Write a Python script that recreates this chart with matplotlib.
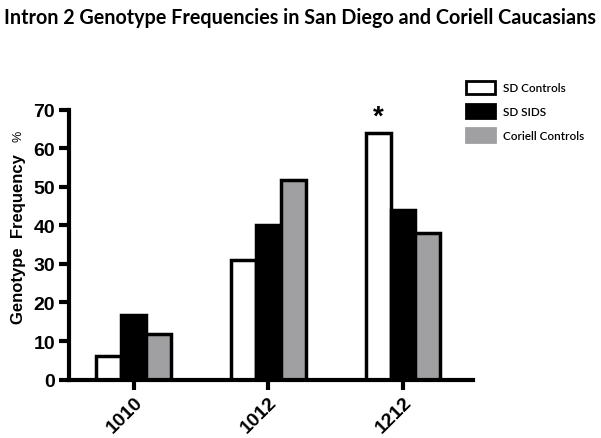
import matplotlib
matplotlib.use("Agg")
import matplotlib.pyplot as plt
import matplotlib.patches as mpatches
import numpy as np

genotypes = ["1010", "1012", "1212"]
groups = ["SD Controls", "SD SIDS", "Coriell Controls"]
sd_controls = [6.0, 31.0, 64.0]
sd_sids = [16.7, 40.0, 44.0]
coriell_controls = [11.7, 51.7, 38.0]
yticks = [0, 10, 20, 30, 40, 50, 60, 70]

colors = ["white", "black", "#a0a0a2"]
series = [sd_controls, sd_sids, coriell_controls]

fig = plt.figure(figsize=(6.01, 4.39), dpi=100)
ax = fig.add_axes([0.115, 0.133, 0.672, 0.615])

x = np.arange(len(genotypes))
w = 0.185
for i, (vals, c) in enumerate(zip(series, colors)):
    ax.bar(x + (i - 1) * w, vals, width=w, color=c, edgecolor="black",
           linewidth=2.5, label=groups[i], zorder=2)

# significance mark over the 1212 SD controls bar
ax.annotate("*", xy=(x[2] - w, sd_controls[2]), xytext=(0, 2),
            textcoords="offset points", ha="center", va="bottom",
            fontsize=20, fontweight="bold", family="Liberation Sans")

ax.set_xlim(-0.48, 2.52)
ax.set_ylim(0, 70)
ax.set_yticks(yticks)
ax.set_xticks(x)
ax.set_xticklabels(genotypes, rotation=45, ha="right", va="top",
                   rotation_mode="anchor")
for lab in ax.get_xticklabels() + ax.get_yticklabels():
    lab.set_family("Liberation Sans")
    lab.set_fontweight("bold")
    lab.set_fontsize(14)

for s in ["top", "right"]:
    ax.spines[s].set_visible(False)
for s in ["left", "bottom"]:
    ax.spines[s].set_linewidth(3)
ax.tick_params(width=3, length=7, pad=3)

fig.text(0.03, 0.262, "Genotype  Frequency", rotation=90, ha="center",
         va="bottom", fontsize=12, fontweight="bold", family="Liberation Sans")
fig.text(0.03, 0.676, "%", rotation=90, ha="center", va="bottom",
         fontsize=9, family="Liberation Sans")

fig.text(0.5, 0.958, "Intron 2 Genotype Frequencies in San Diego and Coriell Caucasians",
         ha="center", va="center", fontsize=14.2, fontweight="bold", family="Lato")

handles = [mpatches.Patch(facecolor=c, edgecolor="black" if c == "white" else c,
                          linewidth=2) for c in colors]
fig.legend(handles, groups, loc="upper left", bbox_to_anchor=(0.757, 0.838),
           frameon=False, handlelength=2.5, handleheight=1.4,
           labelspacing=0.85, handletextpad=0.7,
           prop={"family": "Lato", "size": 8.5, "weight": "semibold"})

fig.savefig("out.png", dpi=100)
